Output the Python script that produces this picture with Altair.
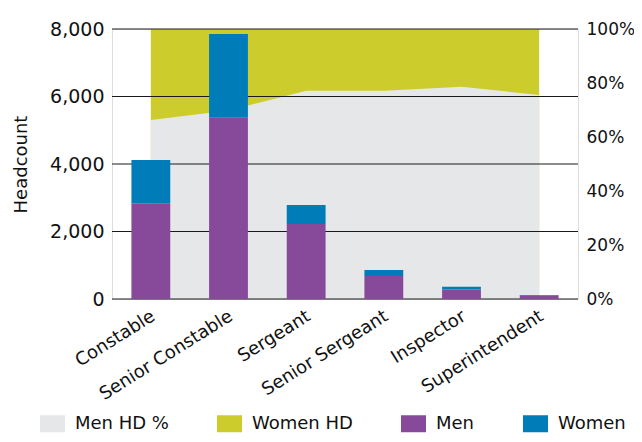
import altair as alt
import pandas as pd

categories = ["Constable", "Senior Constable", "Sergeant", "Senior Sergeant", "Inspector", "Superintendent"]
men = [2840, 5370, 2220, 680, 280, 100]
women = [1280, 2480, 565, 180, 80, 20]
men_hd_pct = [0.663, 0.698, 0.771, 0.771, 0.786, 0.756]
grid_values = [0, 2000, 4000, 6000, 8000]
pct_ticks = [0, 0.2, 0.4, 0.6, 0.8, 1.0]

series_domain = ["Men HD %", "Women HD", "Men", "Women"]
series_colors = ["#e6e7e8", "#cccc2c", "#874a9b", "#007db8"]

FONT = "DejaVu Sans"

bars_df = pd.DataFrame(
    [{"rank": c, "series": "Men", "value": m, "ord": 0} for c, m in zip(categories, men)]
    + [{"rank": c, "series": "Women", "value": w, "ord": 1} for c, w in zip(categories, women)]
)
women_area_df = pd.DataFrame([{"rank": c, "series": "Women HD", "top": 1.0, "bottom": 0.0} for c in categories])
men_area_df = pd.DataFrame([{"rank": c, "series": "Men HD %", "top": p, "bottom": 0.0} for c, p in zip(categories, men_hd_pct)])
grid_df = pd.DataFrame({"g": grid_values})

color = alt.Color(
    "series:N",
    scale=alt.Scale(domain=series_domain, range=series_colors),
    legend=alt.Legend(
        title=None,
        orient="none",
        direction="horizontal",
        legendX=-72,
        legendY=382,
        symbolType="M-1,-0.68H1V0.68H-1Z",
        symbolSize=625,
        symbolStrokeWidth=0,
        labelFontSize=18,
        labelFont=FONT,
        labelColor="#111",
        labelOffset=10,
        columnPadding=48,
        padding=0,
    ),
)

pct_scale = alt.Scale(domain=[0, 1], nice=False)

women_area = alt.Chart(women_area_df).mark_area(opacity=1).encode(
    x=alt.X("rank:N", sort=categories),
    y=alt.Y("top:Q", scale=pct_scale, axis=None),
    y2="bottom:Q",
    color=color,
)

men_area = alt.Chart(men_area_df).mark_area(opacity=1).encode(
    x=alt.X("rank:N", sort=categories),
    y=alt.Y(
        "top:Q",
        scale=pct_scale,
        axis=alt.Axis(
            orient="right",
            values=pct_ticks,
            format=".0%",
            grid=False,
            domain=False,
            ticks=False,
            tickSize=0,
            labelPadding=8,
            labelFontSize=17,
            labelFont=FONT,
            labelColor="#111",
            title=None,
        ),
    ),
    y2="bottom:Q",
    color=color,
)

grid = alt.Chart(grid_df).mark_rule(color="#1a1a1a", strokeWidth=1).encode(
    y=alt.Y("g:Q", scale=alt.Scale(domain=[0, 8000], nice=False), axis=None),
)

bars = alt.Chart(bars_df).mark_bar().encode(
    x=alt.X(
        "rank:N",
        sort=categories,
        scale=alt.Scale(paddingInner=0.5, paddingOuter=0.25),
        title=None,
        axis=alt.Axis(
            labelAngle=328,
            labelAlign="right",
            labelBaseline="top",
            labelPadding=8,
            labelOffset=-2,
            labelFontSize=18,
            labelFont=FONT,
            labelColor="#111",
            domain=False,
            ticks=False,
            tickSize=0,
        ),
    ),
    y=alt.Y(
        "value:Q",
        stack="zero",
        scale=alt.Scale(domain=[0, 8000], nice=False),
        axis=alt.Axis(
            orient="left",
            values=grid_values,
            format=",.0f",
            grid=False,
            domain=False,
            ticks=False,
            tickSize=0,
            labelPadding=8,
            labelFontSize=19,
            labelFont=FONT,
            labelColor="#111",
            title="Headcount",
            titleFont=FONT,
            titleFontSize=18,
            titleFontWeight="normal",
            titleColor="#111",
            titlePadding=19,
        ),
    ),
    color=color,
    order=alt.Order("ord:Q"),
)

chart = (
    alt.layer(women_area, men_area, grid, bars)
    .resolve_scale(y="independent")
    .properties(
        width=466,
        height=270,
        autosize=alt.AutoSizeParams(type="none"),
        padding={"left": 104, "top": 21, "right": 56, "bottom": 135},
    )
    .configure_view(stroke=None)
    .configure(font=FONT)
)

chart.save("out.html", embed_options={"renderer": "svg", "actions": False})
